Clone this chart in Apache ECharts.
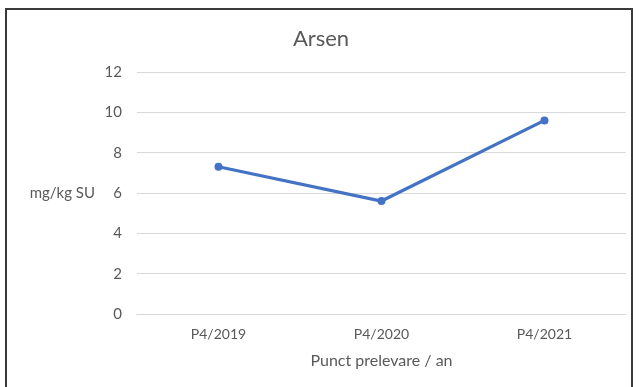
<!DOCTYPE html>
<html>
<head>
<meta charset="utf-8">
<title>Arsen</title>
<script src="https://cdn.jsdelivr.net/npm/echarts@6/dist/echarts.min.js"></script>
<style>
  html, body { margin: 0; padding: 0; background: #ffffff; }
  #chart { width: 642px; height: 387px; }
</style>
</head>
<body>
<div id="chart"></div>
<script>
// Sampling points (point / year) and arsenic concentration
const categories = ['P4/2019', 'P4/2020', 'P4/2021'];
const arsenValues = [7.3, 5.6, 9.6];
const yTicks = { min: 0, max: 12, interval: 2 };

const FONT = 'Lato, "Open Sans", sans-serif';
const TEXT = '#595959';

const chart = echarts.init(document.getElementById('chart'), null, { renderer: 'canvas' });
chart.setOption({
  animation: false,
  backgroundColor: '#ffffff',
  graphic: [{
    type: 'rect',
    shape: { x: 6, y: 9, width: 626, height: 400 },
    style: { fill: 'none', stroke: '#3a3a3a', lineWidth: 2 },
    silent: true
  }],
  title: {
    text: 'Arsen',
    left: 'center',
    top: 23,
    textStyle: { fontFamily: FONT, fontSize: 22, fontWeight: 'normal', color: TEXT }
  },
  grid: { left: 137, right: 16, top: 72, bottom: 73, containLabel: false },
  xAxis: {
    type: 'category',
    data: categories,
    boundaryGap: true,
    name: 'Punct prelevare / an',
    nameLocation: 'middle',
    nameGap: 39,
    nameTextStyle: { fontFamily: FONT, fontSize: 16, color: TEXT, verticalAlign: 'top' },
    axisLine: { show: true, lineStyle: { color: '#d9d9d9', width: 1 } },
    axisTick: { show: false },
    axisLabel: { fontFamily: FONT, fontSize: 14, color: TEXT, margin: 13 },
    splitLine: { show: false }
  },
  yAxis: {
    type: 'value',
    min: yTicks.min,
    max: yTicks.max,
    interval: yTicks.interval,
    name: 'mg/kg SU',
    nameLocation: 'middle',
    nameRotate: 0,
    nameGap: 42,
    nameTextStyle: { fontFamily: FONT, fontSize: 15, color: TEXT, align: 'right', verticalAlign: 'middle' },
    axisLine: { show: false },
    axisTick: { show: false },
    axisLabel: { fontFamily: FONT, fontSize: 15, color: TEXT, margin: 15 },
    splitLine: { show: true, lineStyle: { color: '#d9d9d9', width: 1 } }
  },
  series: [{
    type: 'line',
    data: arsenValues,
    symbol: 'circle',
    symbolSize: 8,
    lineStyle: { color: '#4472c4', width: 3.25 },
    itemStyle: { color: '#4472c4' },
    label: { show: false }
  }]
});
</script>
</body>
</html>
